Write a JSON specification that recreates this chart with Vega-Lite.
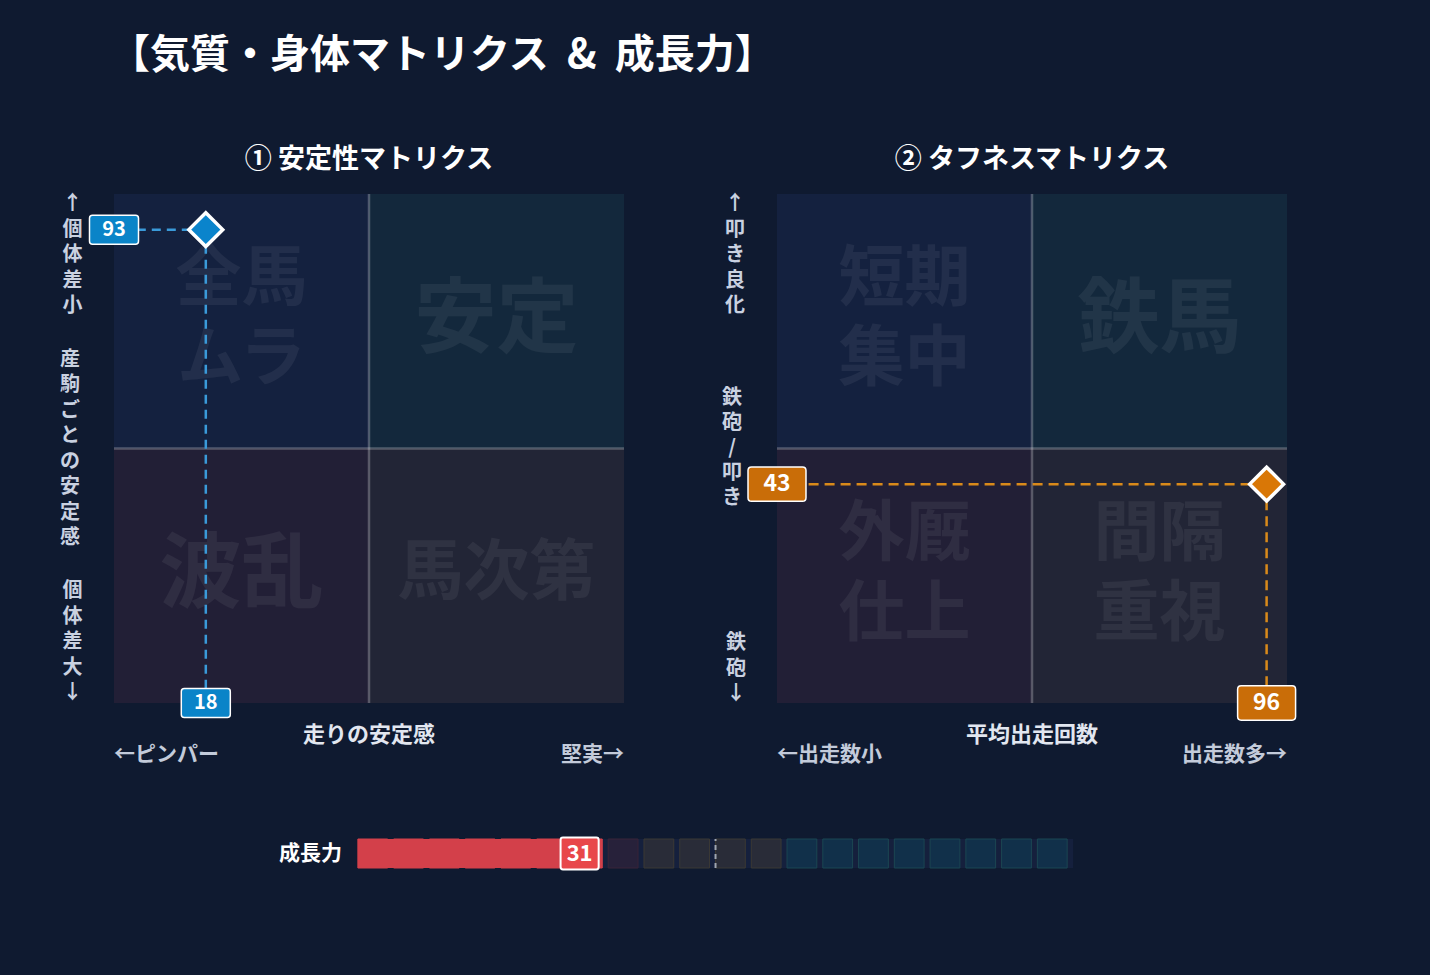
{
  "$schema": "https://vega.github.io/schema/vega-lite/v6.json",
  "background": "#0f1a30",
  "padding": {"left": 60, "top": 35, "right": 140, "bottom": 115},
  "config": {
    "view": {"stroke": null},
    "font": "Noto Sans CJK JP",
    "title": {"font": "Noto Sans CJK JP"},
    "text": {"font": "Noto Sans CJK JP"}
  },
  "title": {
    "text": "【気質・身体マトリクス \u00a0&\u00a0 成長力】",
    "anchor": "start",
    "fontSize": 40,
    "fontWeight": "bold",
    "color": "#ffffff",
    "offset": 70,
    "dx": 50
  },
  "datasets": {
    "stab_quads": [
      {"pos": "TL", "x0": 0, "x1": 50, "y0": 50, "y1": 100, "label": "全馬\nムラ"},
      {"pos": "TR", "x0": 50, "x1": 100, "y0": 50, "y1": 100, "label": "安定"},
      {"pos": "BL", "x0": 0, "x1": 50, "y0": 0, "y1": 50, "label": "波乱"},
      {"pos": "BR", "x0": 50, "x1": 100, "y0": 0, "y1": 50, "label": "馬次第"}
    ],
    "tough_quads": [
      {"pos": "TL", "x0": 0, "x1": 50, "y0": 50, "y1": 100, "label": "短期\n集中"},
      {"pos": "TR", "x0": 50, "x1": 100, "y0": 50, "y1": 100, "label": "鉄馬"},
      {"pos": "BL", "x0": 0, "x1": 50, "y0": 0, "y1": 50, "label": "外厩\n仕上"},
      {"pos": "BR", "x0": 50, "x1": 100, "y0": 0, "y1": 50, "label": "間隔\n重視"}
    ],
    "stab_point": [{"x": 18, "y": 93}],
    "tough_point": [{"x": 96, "y": 43}],
    "growth": [{"value": 31}],
    "growth_cells": [
      {"cell": 1, "from": 0, "to": 5, "state": "filled"},
      {"cell": 2, "from": 5, "to": 10, "state": "filled"},
      {"cell": 3, "from": 10, "to": 15, "state": "filled"},
      {"cell": 4, "from": 15, "to": 20, "state": "filled"},
      {"cell": 5, "from": 20, "to": 25, "state": "filled"},
      {"cell": 6, "from": 25, "to": 30, "state": "filled"},
      {"cell": 7, "from": 30, "to": 35, "state": "filled"},
      {"cell": 8, "from": 35, "to": 40, "state": "zone_low"},
      {"cell": 9, "from": 40, "to": 45, "state": "zone_mid"},
      {"cell": 10, "from": 45, "to": 50, "state": "zone_mid"},
      {"cell": 11, "from": 50, "to": 55, "state": "zone_mid"},
      {"cell": 12, "from": 55, "to": 60, "state": "zone_mid"},
      {"cell": 13, "from": 60, "to": 65, "state": "zone_high"},
      {"cell": 14, "from": 65, "to": 70, "state": "zone_high"},
      {"cell": 15, "from": 70, "to": 75, "state": "zone_high"},
      {"cell": 16, "from": 75, "to": 80, "state": "zone_high"},
      {"cell": 17, "from": 80, "to": 85, "state": "zone_high"},
      {"cell": 18, "from": 85, "to": 90, "state": "zone_high"},
      {"cell": 19, "from": 90, "to": 95, "state": "zone_high"},
      {"cell": 20, "from": 95, "to": 100, "state": "zone_high"}
    ],
    "growth_track": [{"start": 0, "end": 100}]
  },
  "bounds": "flush",
  "spacing": 645,
  "vconcat": [
    {
      "bounds": "flush",
      "spacing": 153,
      "hconcat": [
        {
          "width": 510,
          "height": 509,
          "title": {"text": "① 安定性マトリクス", "fontSize": 27, "fontWeight": "bold", "color": "#ffffff", "offset": 19, "anchor": "middle"},
          "layer": [
            {
              "data": {"name": "stab_quads"},
              "mark": {"type": "rect"},
              "encoding": {
                "x": {"field": "x0", "type": "quantitative", "scale": {"domain": [0, 100], "nice": false, "zero": false}, "axis": null},
                "x2": {"field": "x1"},
                "y": {"field": "y0", "type": "quantitative", "scale": {"domain": [0, 100], "nice": false, "zero": false}, "axis": null},
                "y2": {"field": "y1"},
                "color": {"field": "pos", "type": "nominal", "scale": {"domain": ["TL", "TR", "BL", "BR"], "range": ["#14213f", "#13283c", "#221f36", "#222536"]}, "legend": null}
              }
            },
            {
              "data": {"values": [{}]},
              "mark": {"type": "rule", "color": "#ffffff", "opacity": 0.25, "strokeWidth": 2.5},
              "encoding": {"x": {"datum": 50, "type": "quantitative"}}
            },
            {
              "data": {"values": [{}]},
              "mark": {"type": "rule", "color": "#ffffff", "opacity": 0.25, "strokeWidth": 2.5},
              "encoding": {"y": {"datum": 50, "type": "quantitative"}}
            },
            {
              "data": {"name": "stab_quads"},
              "transform": [{"filter": "length(datum.label) == 2"}],
              "mark": {"type": "text", "fontSize": 82, "fontWeight": "bold", "fill": "#ffffff", "opacity": 0.06, "align": "center", "baseline": "middle", "dx": 127.5, "dy": 127},
              "encoding": {"x": {"field": "x0", "type": "quantitative"}, "y": {"field": "y1", "type": "quantitative"}, "text": {"field": "label", "type": "nominal"}}
            },
            {
              "data": {"name": "stab_quads"},
              "transform": [{"filter": "length(datum.label) == 3"}],
              "mark": {"type": "text", "fontSize": 66, "fontWeight": "bold", "fill": "#ffffff", "opacity": 0.06, "align": "center", "baseline": "middle", "dx": 127.5, "dy": 125},
              "encoding": {"x": {"field": "x0", "type": "quantitative"}, "y": {"field": "y1", "type": "quantitative"}, "text": {"field": "label", "type": "nominal"}}
            },
            {
              "data": {"name": "stab_quads"},
              "transform": [{"filter": "length(datum.label) == 5"}],
              "mark": {"type": "text", "fontSize": 66, "fontWeight": "bold", "fill": "#ffffff", "opacity": 0.06, "align": "center", "baseline": "middle", "dx": 127.5, "dy": 86, "lineBreak": "\n", "lineHeight": 80},
              "encoding": {"x": {"field": "x0", "type": "quantitative"}, "y": {"field": "y1", "type": "quantitative"}, "text": {"field": "label", "type": "nominal"}}
            },
            {
              "data": {"values": [{}]},
              "mark": {"type": "text", "text": ["↑", "個", "体", "差", "小"], "fontSize": 20, "fontWeight": "bold", "fill": "#c9d1e0", "align": "center", "baseline": "top", "lineHeight": 25.5, "dx": -41.5, "dy": 0},
              "encoding": {"x": {"datum": 0, "type": "quantitative"}, "y": {"datum": 100, "type": "quantitative"}}
            },
            {
              "data": {"values": [{}]},
              "mark": {"type": "text", "text": ["産", "駒", "ご", "と", "の", "安", "定", "感"], "fontSize": 20, "fontWeight": "bold", "fill": "#c9d1e0", "align": "center", "baseline": "middle", "lineHeight": 25.5, "dx": -44, "dy": -89},
              "encoding": {"x": {"datum": 0, "type": "quantitative"}, "y": {"datum": 50, "type": "quantitative"}}
            },
            {
              "data": {"values": [{}]},
              "mark": {"type": "text", "text": ["個", "体", "差", "大", "↓"], "fontSize": 20, "fontWeight": "bold", "fill": "#c9d1e0", "align": "center", "baseline": "bottom", "lineHeight": 25.5, "dx": -41.5, "dy": -102},
              "encoding": {"x": {"datum": 0, "type": "quantitative"}, "y": {"datum": 0, "type": "quantitative"}}
            },
            {
              "data": {"values": [{}]},
              "mark": {"type": "text", "text": "走りの安定感", "fontSize": 22, "fontWeight": "bold", "fill": "#e2e7f0", "align": "center", "baseline": "middle", "dy": 32},
              "encoding": {"x": {"datum": 50, "type": "quantitative"}, "y": {"datum": 0, "type": "quantitative"}}
            },
            {
              "data": {"values": [{}]},
              "mark": {"type": "text", "text": "←ピンパー", "fontSize": 21, "fontWeight": "bold", "fill": "#c3cbda", "align": "left", "baseline": "middle", "dy": 52},
              "encoding": {"x": {"datum": 0, "type": "quantitative"}, "y": {"datum": 0, "type": "quantitative"}}
            },
            {
              "data": {"values": [{}]},
              "mark": {"type": "text", "text": "堅実→", "fontSize": 21, "fontWeight": "bold", "fill": "#c3cbda", "align": "right", "baseline": "middle", "dy": 52},
              "encoding": {"x": {"datum": 100, "type": "quantitative"}, "y": {"datum": 0, "type": "quantitative"}}
            },
            {
              "data": {"name": "stab_point"},
              "mark": {"type": "rule", "color": "#3a9ad9", "strokeWidth": 2.5, "strokeDash": [9, 6]},
              "encoding": {"x": {"field": "x", "type": "quantitative"}, "x2": {"datum": 0}, "y": {"field": "y", "type": "quantitative"}}
            },
            {
              "data": {"name": "stab_point"},
              "mark": {"type": "rule", "color": "#3a9ad9", "strokeWidth": 2.5, "strokeDash": [9, 6]},
              "encoding": {"x": {"field": "x", "type": "quantitative"}, "y": {"field": "y", "type": "quantitative"}, "y2": {"datum": 0}}
            },
            {
              "data": {"name": "stab_point"},
              "mark": {"type": "point", "shape": "diamond", "filled": true, "size": 1150, "fill": "#0a84cc", "stroke": "#ffffff", "strokeWidth": 3.5, "opacity": 1},
              "encoding": {"x": {"field": "x", "type": "quantitative"}, "y": {"field": "y", "type": "quantitative"}}
            },
            {
              "data": {"name": "stab_point"},
              "mark": {"type": "point", "shape": "M-1.075,-0.725L1.075,-0.725Q1.225,-0.725 1.225,-0.575L1.225,0.575Q1.225,0.725 1.075,0.725L-1.075,0.725Q-1.225,0.725 -1.225,0.575L-1.225,-0.575Q-1.225,-0.725 -1.075,-0.725Z", "filled": true, "size": 1600, "fill": "#0a84c8", "stroke": "#ffffff", "strokeWidth": 1.5, "opacity": 1},
              "encoding": {"x": {"datum": 0, "type": "quantitative"}, "y": {"field": "y", "type": "quantitative"}}
            },
            {
              "data": {"name": "stab_point"},
              "mark": {"type": "point", "shape": "M-1.075,-0.725L1.075,-0.725Q1.225,-0.725 1.225,-0.575L1.225,0.575Q1.225,0.725 1.075,0.725L-1.075,0.725Q-1.225,0.725 -1.225,0.575L-1.225,-0.575Q-1.225,-0.725 -1.075,-0.725Z", "filled": true, "size": 1600, "fill": "#0a84c8", "stroke": "#ffffff", "strokeWidth": 1.5, "opacity": 1},
              "encoding": {"x": {"field": "x", "type": "quantitative"}, "y": {"datum": 0, "type": "quantitative"}}
            },
            {
              "data": {"name": "stab_point"},
              "mark": {"type": "text", "fontSize": 20, "fontWeight": "bold", "fill": "#ffffff", "align": "center", "baseline": "middle"},
              "encoding": {"x": {"datum": 0, "type": "quantitative"}, "y": {"field": "y", "type": "quantitative"}, "text": {"field": "y", "type": "quantitative"}}
            },
            {
              "data": {"name": "stab_point"},
              "mark": {"type": "text", "fontSize": 20, "fontWeight": "bold", "fill": "#ffffff", "align": "center", "baseline": "middle"},
              "encoding": {"x": {"field": "x", "type": "quantitative"}, "y": {"datum": 0, "type": "quantitative"}, "text": {"field": "x", "type": "quantitative"}}
            }
          ]
        },
        {
          "width": 510,
          "height": 509,
          "title": {"text": "② タフネスマトリクス", "fontSize": 27, "fontWeight": "bold", "color": "#ffffff", "offset": 19, "anchor": "middle"},
          "layer": [
            {
              "data": {"name": "tough_quads"},
              "mark": {"type": "rect"},
              "encoding": {
                "x": {"field": "x0", "type": "quantitative", "scale": {"domain": [0, 100], "nice": false, "zero": false}, "axis": null},
                "x2": {"field": "x1"},
                "y": {"field": "y0", "type": "quantitative", "scale": {"domain": [0, 100], "nice": false, "zero": false}, "axis": null},
                "y2": {"field": "y1"},
                "color": {"field": "pos", "type": "nominal", "scale": {"domain": ["TL", "TR", "BL", "BR"], "range": ["#14213f", "#13283c", "#221f36", "#222536"]}, "legend": null}
              }
            },
            {
              "data": {"values": [{}]},
              "mark": {"type": "rule", "color": "#ffffff", "opacity": 0.25, "strokeWidth": 2.5},
              "encoding": {"x": {"datum": 50, "type": "quantitative"}}
            },
            {
              "data": {"values": [{}]},
              "mark": {"type": "rule", "color": "#ffffff", "opacity": 0.25, "strokeWidth": 2.5},
              "encoding": {"y": {"datum": 50, "type": "quantitative"}}
            },
            {
              "data": {"name": "tough_quads"},
              "transform": [{"filter": "length(datum.label) == 2"}],
              "mark": {"type": "text", "fontSize": 82, "fontWeight": "bold", "fill": "#ffffff", "opacity": 0.06, "align": "center", "baseline": "middle", "dx": 127.5, "dy": 127},
              "encoding": {"x": {"field": "x0", "type": "quantitative"}, "y": {"field": "y1", "type": "quantitative"}, "text": {"field": "label", "type": "nominal"}}
            },
            {
              "data": {"name": "tough_quads"},
              "transform": [{"filter": "length(datum.label) == 5"}],
              "mark": {"type": "text", "fontSize": 66, "fontWeight": "bold", "fill": "#ffffff", "opacity": 0.06, "align": "center", "baseline": "middle", "dx": 127.5, "dy": 86, "lineBreak": "\n", "lineHeight": 80},
              "encoding": {"x": {"field": "x0", "type": "quantitative"}, "y": {"field": "y1", "type": "quantitative"}, "text": {"field": "label", "type": "nominal"}}
            },
            {
              "data": {"values": [{}]},
              "mark": {"type": "text", "text": ["↑", "叩", "き", "良", "化"], "fontSize": 20, "fontWeight": "bold", "fill": "#c9d1e0", "align": "center", "baseline": "top", "lineHeight": 25.5, "dx": -42, "dy": 0},
              "encoding": {"x": {"datum": 0, "type": "quantitative"}, "y": {"datum": 100, "type": "quantitative"}}
            },
            {
              "data": {"values": [{}]},
              "mark": {"type": "text", "text": ["鉄", "砲", "/", "叩", "き"], "fontSize": 20, "fontWeight": "bold", "fill": "#c9d1e0", "align": "center", "baseline": "middle", "lineHeight": 25, "dx": -45, "dy": -51},
              "encoding": {"x": {"datum": 0, "type": "quantitative"}, "y": {"datum": 50, "type": "quantitative"}}
            },
            {
              "data": {"values": [{}]},
              "mark": {"type": "text", "text": ["鉄", "砲", "↓"], "fontSize": 20, "fontWeight": "bold", "fill": "#c9d1e0", "align": "center", "baseline": "bottom", "lineHeight": 25.5, "dx": -41, "dy": -50},
              "encoding": {"x": {"datum": 0, "type": "quantitative"}, "y": {"datum": 0, "type": "quantitative"}}
            },
            {
              "data": {"values": [{}]},
              "mark": {"type": "text", "text": "平均出走回数", "fontSize": 22, "fontWeight": "bold", "fill": "#e2e7f0", "align": "center", "baseline": "middle", "dy": 32},
              "encoding": {"x": {"datum": 50, "type": "quantitative"}, "y": {"datum": 0, "type": "quantitative"}}
            },
            {
              "data": {"values": [{}]},
              "mark": {"type": "text", "text": "←出走数小", "fontSize": 21, "fontWeight": "bold", "fill": "#c3cbda", "align": "left", "baseline": "middle", "dy": 52},
              "encoding": {"x": {"datum": 0, "type": "quantitative"}, "y": {"datum": 0, "type": "quantitative"}}
            },
            {
              "data": {"values": [{}]},
              "mark": {"type": "text", "text": "出走数多→", "fontSize": 21, "fontWeight": "bold", "fill": "#c3cbda", "align": "right", "baseline": "middle", "dy": 52},
              "encoding": {"x": {"datum": 100, "type": "quantitative"}, "y": {"datum": 0, "type": "quantitative"}}
            },
            {
              "data": {"name": "tough_point"},
              "mark": {"type": "rule", "color": "#d98a1a", "strokeWidth": 2.5, "strokeDash": [10, 6]},
              "encoding": {"x": {"field": "x", "type": "quantitative"}, "x2": {"datum": 0}, "y": {"field": "y", "type": "quantitative"}}
            },
            {
              "data": {"name": "tough_point"},
              "mark": {"type": "rule", "color": "#d98a1a", "strokeWidth": 2.5, "strokeDash": [10, 6]},
              "encoding": {"x": {"field": "x", "type": "quantitative"}, "y": {"field": "y", "type": "quantitative"}, "y2": {"datum": 0}}
            },
            {
              "data": {"name": "tough_point"},
              "mark": {"type": "point", "shape": "diamond", "filled": true, "size": 1150, "fill": "#d97706", "stroke": "#ffffff", "strokeWidth": 3.5, "opacity": 1},
              "encoding": {"x": {"field": "x", "type": "quantitative"}, "y": {"field": "y", "type": "quantitative"}}
            },
            {
              "data": {"name": "tough_point"},
              "mark": {"type": "point", "shape": "M-1.075,-0.725L1.075,-0.725Q1.225,-0.725 1.225,-0.575L1.225,0.575Q1.225,0.725 1.075,0.725L-1.075,0.725Q-1.225,0.725 -1.225,0.575L-1.225,-0.575Q-1.225,-0.725 -1.075,-0.725Z", "filled": true, "size": 2240, "fill": "#c96d08", "stroke": "#ffffff", "strokeWidth": 1.5, "opacity": 1},
              "encoding": {"x": {"datum": 0, "type": "quantitative"}, "y": {"field": "y", "type": "quantitative"}}
            },
            {
              "data": {"name": "tough_point"},
              "mark": {"type": "point", "shape": "M-1.075,-0.725L1.075,-0.725Q1.225,-0.725 1.225,-0.575L1.225,0.575Q1.225,0.725 1.075,0.725L-1.075,0.725Q-1.225,0.725 -1.225,0.575L-1.225,-0.575Q-1.225,-0.725 -1.075,-0.725Z", "filled": true, "size": 2240, "fill": "#c96d08", "stroke": "#ffffff", "strokeWidth": 1.5, "opacity": 1},
              "encoding": {"x": {"field": "x", "type": "quantitative"}, "y": {"datum": 0, "type": "quantitative"}}
            },
            {
              "data": {"name": "tough_point"},
              "mark": {"type": "text", "fontSize": 23, "fontWeight": "bold", "fill": "#ffffff", "align": "center", "baseline": "middle"},
              "encoding": {"x": {"datum": 0, "type": "quantitative"}, "y": {"field": "y", "type": "quantitative"}, "text": {"field": "y", "type": "quantitative"}}
            },
            {
              "data": {"name": "tough_point"},
              "mark": {"type": "text", "fontSize": 23, "fontWeight": "bold", "fill": "#ffffff", "align": "center", "baseline": "middle"},
              "encoding": {"x": {"field": "x", "type": "quantitative"}, "y": {"datum": 0, "type": "quantitative"}, "text": {"field": "x", "type": "quantitative"}}
            }
          ]
        }
      ]
    },
    {
      "width": 1173,
      "height": 29,
      "layer": [
        {
          "data": {"name": "growth_track"},
          "mark": {"type": "rect", "fill": "#15203d"},
          "encoding": {
            "x": {"field": "start", "type": "quantitative", "scale": {"domain": [-34.1, 129.9], "nice": false, "zero": false}, "axis": null},
            "x2": {"field": "end"},
            "y": {"datum": 0, "type": "quantitative", "scale": {"domain": [0, 1], "nice": false, "zero": false}, "axis": null},
            "y2": {"datum": 1}
          }
        },
        {
          "data": {"name": "growth_cells"},
          "mark": {"type": "rect", "x2Offset": -6, "strokeWidth": 1},
          "encoding": {
            "x": {"field": "from", "type": "quantitative"},
            "x2": {"field": "to"},
            "y": {"datum": 0, "type": "quantitative"},
            "y2": {"datum": 1},
            "fill": {"field": "state", "type": "nominal", "scale": {"domain": ["filled", "zone_low", "zone_mid", "zone_high"], "range": ["#d3404a", "#27213a", "#292c38", "#11304a"]}, "legend": null},
            "stroke": {"field": "state", "type": "nominal", "scale": {"domain": ["filled", "zone_low", "zone_mid", "zone_high"], "range": ["#d3404a", "#3a2438", "#3b3934", "#1b4652"]}, "legend": null}
          }
        },
        {
          "data": {"name": "growth_cells"},
          "transform": [
            {"filter": "datum.state == 'filled'"},
            {"aggregate": [{"op": "min", "field": "from", "as": "lo"}, {"op": "max", "field": "to", "as": "hi"}], "groupby": []}
          ],
          "mark": {"type": "rect", "x2Offset": -6, "fill": "#d3404a"},
          "encoding": {
            "x": {"field": "lo", "type": "quantitative"},
            "x2": {"field": "hi"},
            "y": {"datum": 0, "type": "quantitative"},
            "y2": {"datum": 1}
          }
        },
        {
          "data": {"values": [{}]},
          "mark": {"type": "rule", "color": "#a0a6b0", "strokeWidth": 2, "strokeDash": [5, 4]},
          "encoding": {
            "x": {"datum": 50, "type": "quantitative"},
            "y": {"datum": 0, "type": "quantitative"},
            "y2": {"datum": 1}
          }
        },
        {
          "data": {"name": "growth"},
          "mark": {"type": "point", "shape": "M-1.04,-1L1.04,-1Q1.19,-1 1.19,-0.85L1.19,0.85Q1.19,1 1.04,1L-1.04,1Q-1.19,1 -1.19,0.85L-1.19,-0.85Q-1.19,-1 -1.04,-1Z", "filled": true, "size": 1024, "fill": "#e8474a", "stroke": "#ffffff", "strokeWidth": 2, "opacity": 1},
          "encoding": {"x": {"field": "value", "type": "quantitative"}, "y": {"datum": 0.5, "type": "quantitative"}}
        },
        {
          "data": {"name": "growth"},
          "mark": {"type": "text", "fontSize": 22, "fontWeight": "bold", "fill": "#ffffff", "align": "center", "baseline": "middle"},
          "encoding": {"x": {"field": "value", "type": "quantitative"}, "y": {"datum": 0.5, "type": "quantitative"}, "text": {"field": "value", "type": "quantitative"}}
        },
        {
          "data": {"values": [{}]},
          "mark": {"type": "text", "text": "成長力", "fontSize": 21, "fontWeight": "bold", "fill": "#ffffff", "align": "right", "baseline": "middle", "dx": -16},
          "encoding": {"x": {"datum": 0, "type": "quantitative"}, "y": {"datum": 0.5, "type": "quantitative"}}
        }
      ]
    }
  ]
}
